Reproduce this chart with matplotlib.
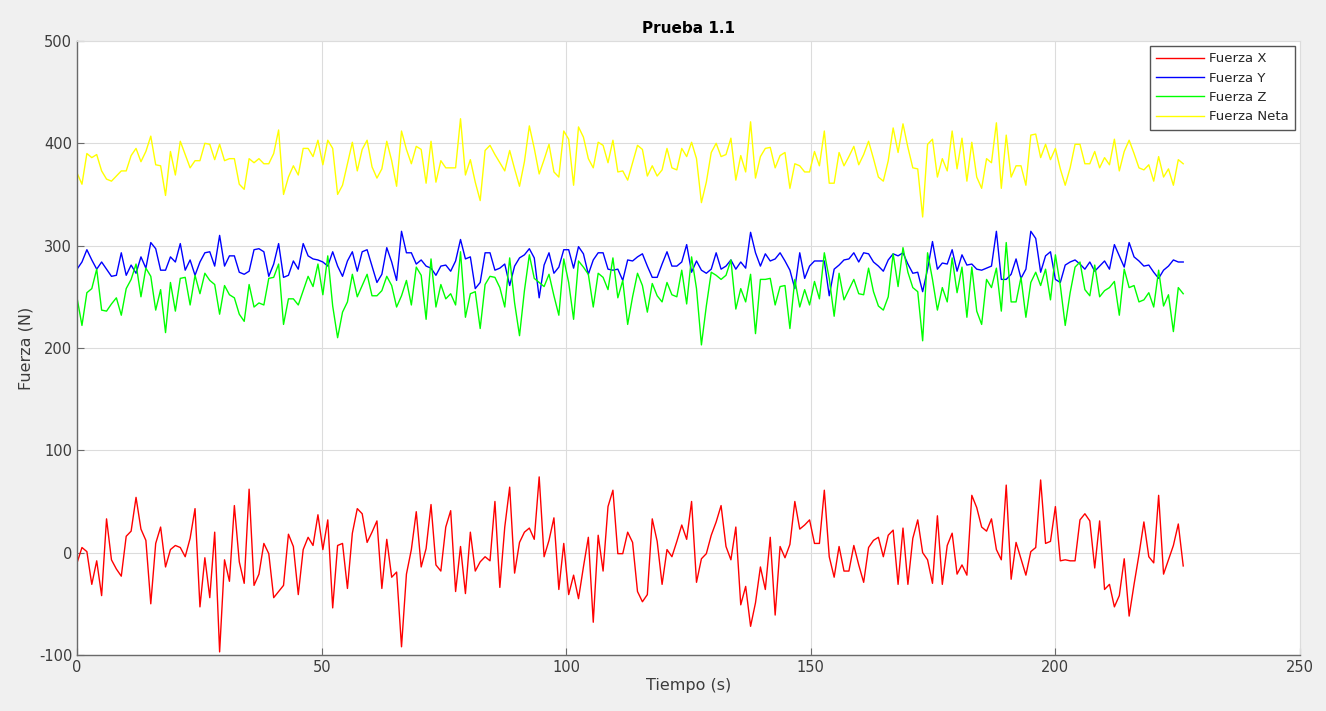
import numpy as np
import matplotlib.pyplot as plt

plt.rcParams["axes.unicode_minus"] = False

# values, one sample per ~1 s
fuerza_x = [-10, 5, 1, -31, -8, -42, 33, -7, -16, -23, 16, 21, 54, 23, 12, -50, 9, 25, -14, 3,
            7, 5, -4, 14, 43, -53, -5, -44, 20, -97, -7, -28, 46, -9, -30, 62, -32, -21, 9, -1,
            -44, -38, -32, 18, 6, -41, 3, 15, 7, 37, 3, 32, -54, 7, 9, -35, 19,
            43, 38, 10, 20, 31, -35, 13, -24, -19, -92, -21, 3, 40, -14, 4, 47, -12, -18, 25, 41,
            -38, 6, -40, 20, -18, -9, -4, -8, 50, -34, 25, 64, -20, 10, 20, 24, 13, 74, -4, 12,
            34, -36, 9, -41, -22, -45, -14, 15, -68, 17, -18, 45, 61, -1, -1, 20,
            10, -38, -48, -41, 33, 11, -31, 3, -4, 11, 27, 13, 50, -29, -6, -1, 17, 30, 46, 6,
            -7, 25, -51, -33, -72, -49, -14, -36, 15, -61, 6, -5, 8, 50, 23, 27, 32, 9, 9, 61,
            -4, -24, 6, -18, -18, 7, -12, -29, 5, 12, 15, -4, 17, 22, -31, 24,
            -31, 14, 32, 0, -7, -30, 36, -31, 7, 19, -21, -12, -22, 56, 44, 25, 21, 33, 3, -7,
            66, -26, 10, -6, -22, 1, 5, 71, 9, 11, 45, -8, -7, -8, -8, 32, 38, 31, -15, 31,
            -36, -31, -53, -42, -6, -62, -31, -2, 30, -4, -10, 56, -21, -7, 7, 28, -13]

fuerza_y = [277, 284, 296, 286, 277, 284, 277, 270, 271, 293, 271, 281, 273, 289, 278, 303, 297, 276, 276, 289,
            284, 302, 276, 286, 271, 284, 293, 294, 280, 310, 280, 290, 290, 274, 272, 275, 296, 297, 294, 270,
            282, 302, 269, 271, 285, 277, 302, 290, 287, 286, 284, 280, 294, 280, 270, 285, 294,
            275, 294, 296, 280, 264, 272, 298, 284, 266, 314, 293, 293, 282, 286, 280, 278, 271, 280, 281, 275,
            285, 306, 287, 289, 258, 264, 293, 293, 276, 278, 282, 261, 280, 288, 291, 297, 288, 249, 281, 293,
            273, 279, 296, 296, 278, 299, 292, 272, 286, 293, 293, 277, 276, 277, 266, 286,
            285, 289, 292, 280, 269, 269, 282, 294, 280, 280, 284, 301, 274, 285, 276, 273, 277, 293, 277, 280,
            286, 277, 284, 278, 313, 293, 280, 292, 285, 287, 293, 285, 276, 258, 293, 268, 280, 285, 285, 285,
            251, 277, 281, 286, 287, 293, 284, 293, 292, 284, 280, 275, 286, 292, 290, 293,
            282, 273, 274, 255, 277, 304, 277, 283, 282, 296, 275, 291, 281, 282, 277, 276, 278, 280, 314, 267,
            267, 272, 287, 268, 277, 314, 307, 274, 290, 294, 267, 264, 281, 284, 286, 282, 277, 284, 275, 280,
            285, 277, 301, 290, 279, 303, 289, 285, 280, 281, 274, 268, 276, 280, 286, 284, 284]

fuerza_z = [249, 222, 254, 258, 277, 237, 236, 243, 249, 232, 258, 267, 282, 250, 278, 270, 237, 257, 215, 264,
            236, 268, 269, 242, 271, 253, 273, 266, 262, 233, 261, 252, 249, 233, 226, 262, 240, 244, 242, 268,
            269, 282, 223, 248, 248, 242, 256, 270, 260, 282, 252, 290, 241, 210, 235, 245, 272,
            250, 261, 272, 251, 251, 256, 270, 261, 240, 251, 266, 242, 279, 271, 228, 287, 240, 262, 248, 253,
            242, 294, 230, 253, 255, 219, 262, 270, 269, 259, 240, 288, 244, 212, 256, 291, 268, 264, 260, 272,
            251, 232, 287, 264, 228, 285, 279, 272, 240, 273, 269, 257, 288, 249, 266, 223,
            250, 273, 261, 235, 263, 251, 245, 264, 252, 250, 276, 243, 289, 258, 203, 241, 274, 271, 267, 271,
            286, 238, 258, 245, 272, 214, 267, 267, 268, 242, 260, 261, 219, 267, 240, 257, 242, 265, 248, 293,
            268, 231, 273, 247, 257, 267, 253, 252, 278, 255, 241, 237, 250, 292, 260, 298,
            274, 259, 255, 207, 293, 267, 237, 259, 245, 288, 254, 279, 230, 279, 236, 223, 267, 259, 278, 236,
            303, 245, 245, 269, 230, 264, 274, 261, 277, 247, 291, 261, 222, 254, 279, 284, 257, 251, 281, 250,
            256, 259, 265, 232, 277, 259, 261, 245, 247, 254, 240, 276, 241, 252, 216, 259, 253]

fuerza_neta = [371, 360, 390, 386, 389, 373, 365, 363, 368, 373, 373, 388, 395, 382, 392, 407, 379, 378, 349, 392,
               369, 402, 389, 376, 383, 383, 400, 399, 384, 399, 383, 385, 385, 360, 355, 385, 381, 385, 380, 380,
               390, 413, 350, 367, 378, 369, 395, 395, 387, 403, 379, 403, 395, 350, 359, 380, 401,
               373, 394, 403, 377, 366, 375, 402, 383, 358, 412, 394, 380, 397, 394, 361, 402, 362, 383, 376, 376,
               376, 424, 369, 384, 362, 344, 393, 398, 389, 381, 373, 393, 375, 358, 382, 417, 395, 370, 384, 399,
               372, 367, 412, 404, 359, 416, 406, 385, 376, 401, 398, 381, 403, 372, 373, 364,
               381, 398, 394, 368, 378, 368, 374, 395, 376, 374, 395, 387, 401, 385, 342, 362, 391, 400, 387, 389,
               405, 364, 388, 372, 421, 366, 387, 395, 396, 376, 388, 391, 356, 380, 378, 372, 372, 392, 378, 412,
               361, 361, 391, 378, 387, 397, 379, 389, 402, 385, 367, 363, 383, 415, 391, 419,
               396, 376, 375, 328, 399, 404, 367, 385, 373, 412, 375, 405, 363, 401, 367, 356, 385, 381, 420, 356,
               408, 367, 378, 378, 359, 408, 409, 386, 399, 384, 395, 375, 359, 376, 399, 399, 380, 380, 392, 376,
               386, 379, 404, 373, 392, 403, 390, 376, 374, 379, 363, 387, 367, 375, 359, 384, 380]

dt = 1.005
t = np.arange(len(fuerza_x)) * dt

fig = plt.figure(figsize=(13.26, 7.11), dpi=100, facecolor="#f0f0f0")
ax = fig.add_axes([0.0581, 0.0788, 0.9223, 0.8636])
ax.set_facecolor("white")

ax.plot(t, fuerza_x, color=(1, 0, 0), lw=1.0, label="Fuerza X")
ax.plot(t, fuerza_y, color=(0, 0, 1), lw=1.0, label="Fuerza Y")
ax.plot(t, fuerza_z, color=(0, 1, 0), lw=1.0, label="Fuerza Z")
ax.plot(t, fuerza_neta, color=(1, 1, 0), lw=1.0, label="Fuerza Neta")

ax.set_xlim(0, 250)
ax.set_ylim(-100, 500)
ax.set_xticks(np.arange(0, 251, 50))
ax.set_yticks(np.arange(-100, 501, 100))
ax.grid(True, color="#dcdcdc", lw=0.8)
ax.set_axisbelow(True)

dark = "#3c3c3c"
axis_col = "#6a6a6a"
for side in ["left", "bottom"]:
    ax.spines[side].set_color(axis_col)
    ax.spines[side].set_linewidth(1.0)
for side in ["top", "right"]:
    ax.spines[side].set_color("#dcdcdc")
    ax.spines[side].set_linewidth(0.8)
ax.tick_params(direction="in", length=5, color=axis_col, labelcolor=dark,
               labelsize=10.5, top=False, right=False)

ax.set_title("Prueba 1.1", fontsize=11, fontweight="bold", color="black", pad=6)
ax.set_xlabel("Tiempo (s)", fontsize=11.5, color=dark, labelpad=2)
ax.set_ylabel("Fuerza (N)", fontsize=11.5, color=dark, labelpad=4)

leg = ax.legend(loc="upper right", fontsize=9.5, fancybox=False, framealpha=1,
                edgecolor="#555555", borderaxespad=0.35, handlelength=3.6,
                labelspacing=0.48, borderpad=0.5, handletextpad=0.4)
leg.get_frame().set_linewidth(1.0)
for txt in leg.get_texts():
    txt.set_color("#262626")

plt.savefig("out.png", dpi=100, facecolor=fig.get_facecolor())
